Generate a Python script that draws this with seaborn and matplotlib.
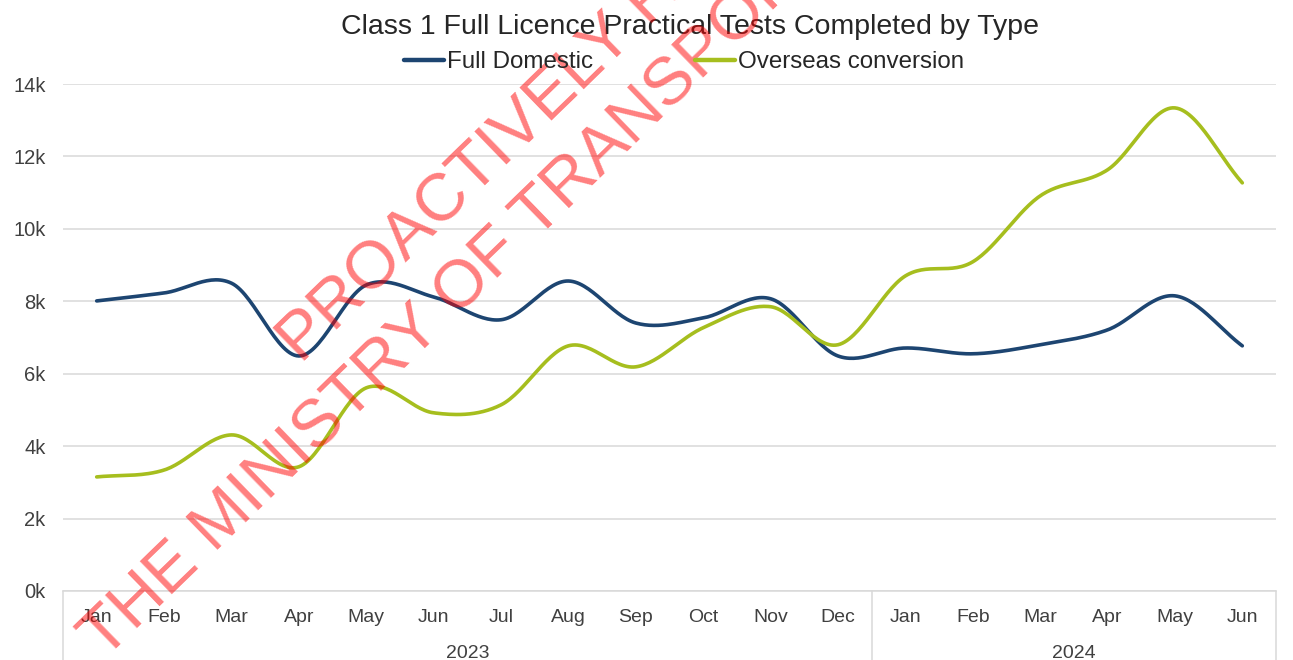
import numpy as np
import pandas as pd
import matplotlib
matplotlib.use("Agg")
import matplotlib.pyplot as plt
import matplotlib.transforms as mtransforms
from matplotlib.lines import Line2D
import seaborn as sns

# ---- data ----
months = ["Jan", "Feb", "Mar", "Apr", "May", "Jun", "Jul", "Aug", "Sep", "Oct", "Nov", "Dec",
          "Jan", "Feb", "Mar", "Apr", "May", "Jun"]
years = ["2023", "2024"]
year_counts = [12, 6]
full_domestic = [8010, 8230, 8500, 6490, 8450, 8120, 7490, 8560, 7400, 7540, 8070, 6490,
                 6710, 6550, 6800, 7210, 8150, 6770]
overseas_conversion = [3150, 3340, 4310, 3430, 5610, 4920, 5140, 6770, 6190, 7270, 7850, 6800,
                       8700, 9090, 10910, 11630, 13340, 11270]
series_names = ["Full Domestic", "Overseas conversion"]
series_colors = ["#1D4571", "#A6BE1E"]
yticks = [0, 2000, 4000, 6000, 8000, 10000, 12000, 14000]
ytick_labels = ["0k", "2k", "4k", "6k", "8k", "10k", "12k", "14k"]
title = "Class 1 Full Licence Practical Tests Completed by Type"
watermark1 = "PROACTIVELY RELEASED BY"
watermark2 = "THE MINISTRY OF TRANSPORT"


def smooth(vals, n=30):
    """Catmull-Rom style smoothing (like spreadsheet smoothed lines)."""
    y = np.asarray(vals, dtype=float)
    x = np.arange(len(y), dtype=float)
    px = np.concatenate([[2 * x[0] - x[1]], x, [2 * x[-1] - x[-2]]])
    py = np.concatenate([[2 * y[0] - y[1]], y, [2 * y[-1] - y[-2]]])
    xs, ys = [], []
    for i in range(1, len(px) - 2):
        p0, p1, p2, p3 = py[i - 1], py[i], py[i + 1], py[i + 2]
        q0, q1, q2, q3 = px[i - 1], px[i], px[i + 1], px[i + 2]
        t = np.linspace(0, 1, n, endpoint=(i == len(px) - 3))
        b1y = p1 + (p2 - p0) / 6
        b2y = p2 - (p3 - p1) / 6
        b1x = q1 + (q2 - q0) / 6
        b2x = q2 - (q3 - q1) / 6
        ys.append((1 - t) ** 3 * p1 + 3 * (1 - t) ** 2 * t * b1y + 3 * (1 - t) * t ** 2 * b2y + t ** 3 * p2)
        xs.append((1 - t) ** 3 * q1 + 3 * (1 - t) ** 2 * t * b1x + 3 * (1 - t) * t ** 2 * b2x + t ** 3 * q2)
    return np.concatenate(xs), np.concatenate(ys)


frames = []
for name, vals in zip(series_names, [full_domestic, overseas_conversion]):
    sx, sy = smooth(vals)
    frames.append(pd.DataFrame({"x": sx, "value": sy, "series": name}))
df = pd.concat(frames, ignore_index=True)

sns.set_theme(style="white")
plt.rcParams["font.family"] = ["Liberation Sans", "DejaVu Sans"]

W, H = 1293, 660
fig = plt.figure(figsize=(W / 100, H / 100), dpi=100)
ax_left, ax_right, ax_top, ax_bottom = 63, 1276, 84, 591
ax = fig.add_axes([ax_left / W, 1 - ax_bottom / H, (ax_right - ax_left) / W, (ax_bottom - ax_top) / H])

sns.lineplot(data=df, x="x", y="value", hue="series", palette=series_colors,
             hue_order=series_names, linewidth=2.6, ax=ax, sort=False, legend=False,
             estimator=None)
for ln in ax.lines:
    ln.set_solid_capstyle("round")

ax.set_xlim(-0.5, len(months) - 0.5)
ax.set_ylim(0, 14000)
ax.set_yticks(yticks)
ax.set_yticklabels(ytick_labels)
ax.set_xticks(range(len(months)))
ax.set_xticklabels(months)
ax.set_xlabel("")
ax.set_ylabel("")
ax.grid(axis="y", color="#d9d9d9", linewidth=1.1)
ax.grid(axis="x", visible=False)
ax.set_axisbelow(True)
for s in ["top", "right", "left"]:
    ax.spines[s].set_visible(False)
ax.spines["bottom"].set_color("#d9d9d9")
ax.spines["bottom"].set_linewidth(1.1)
ax.tick_params(axis="y", length=0, pad=12.5, labelsize=14.5, labelcolor="#404040")
ax.tick_params(axis="x", length=0, pad=13, labelsize=14, labelcolor="#404040")

# category group box
trans = mtransforms.blended_transform_factory(ax.transData, ax.transAxes)
box_bottom = -(H - ax_bottom + 5) / (ax_bottom - ax_top)
edges = [-0.5]
acc = -0.5
for c in year_counts:
    acc += c
    edges.append(acc)
for e in edges:
    ax.add_line(Line2D([e, e], [0, box_bottom], transform=trans, color="#d9d9d9",
                       linewidth=1.1, clip_on=False))
for i, yr in enumerate(years):
    xc = (edges[i] + edges[i + 1]) / 2
    ax.text(xc, -(653 - ax_bottom) / (ax_bottom - ax_top), yr, transform=trans,
            ha="center", va="center", fontsize=14, color="#404040")

fig.text(690 / W, 1 - 27 / H, title, ha="center", va="center", fontsize=20.5, color="#262626")

handles = [Line2D([], [], color=c, linewidth=3.2) for c in series_colors]
fig.legend(handles, series_names, loc="center", bbox_to_anchor=(684 / W, 1 - 62 / H),
           ncol=2, frameon=False, fontsize=17.4, handlelength=1.65, handletextpad=0.15,
           columnspacing=4.2, labelcolor="#262626")

# watermark
fig.text(631 / W, 1 - 21 / H, watermark1, rotation=44.2, rotation_mode="anchor",
         ha="center", va="center", fontsize=48.5, color="red", alpha=0.5)
fig.text(457 / W, 1 - 294 / H, watermark2, rotation=44.2, rotation_mode="anchor",
         ha="center", va="center", fontsize=48.5, color="red", alpha=0.5)

fig.savefig("out.png", dpi=100)
